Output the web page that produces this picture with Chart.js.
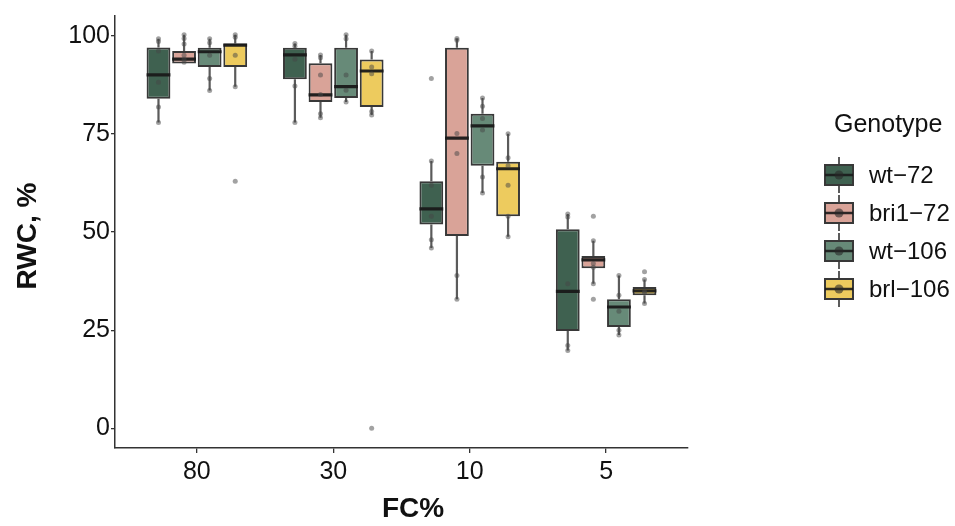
<!DOCTYPE html>
<html>
<head>
<meta charset="utf-8">
<script src="https://cdn.jsdelivr.net/npm/chart.js@4.4.1/dist/chart.umd.min.js"></script>
<style>
  html, body { margin: 0; padding: 0; background: #ffffff; }
  #wrap { width: 955px; height: 526px; position: relative; }
</style>
</head>
<body>
<div id="wrap"><canvas id="c"></canvas></div>
<script>
// Field-capacity levels (x categories) and genotypes (dodged groups)
const fcLevels = ['80', '30', '10', '5'];
const genotypes = ['wt\u221272', 'bri1\u221272', 'wt\u2212106', 'brl\u2212106'];
const boxColors = ['#3f6150', '#d9a398', '#678a78', '#edcb5e'];
const yTicks = [0, 25, 50, 75, 100];

// Box summaries per FC level: [lower whisker, Q1, median, Q3, upper whisker]
const wt72Stats   = [[77.9, 83.9, 90.0, 97.0, 99.2], [77.9, 88.9, 95.1, 96.9, 98.0], [45.9, 51.9, 55.9, 62.9, 68.1], [19.8, 24.8, 34.9, 50.7, 54.6]];
const bri172Stats = [[92.9, 92.9, 94.0, 96.1, 100.2], [79.1, 83.1, 84.9, 93.0, 95.1], [32.9, 49.0, 73.9, 96.9, 99.3], [36.8, 40.8, 42.9, 43.9, 47.8]];
const wt106Stats  = [[86.0, 92.0, 95.9, 96.9, 99.2], [83.1, 84.1, 87.0, 96.9, 100.2], [59.9, 66.9, 77.0, 80.1, 84.1], [23.8, 25.8, 30.9, 32.9, 38.9]];
const brl106Stats = [[87.0, 92.0, 97.6, 98.0, 100.2], [79.8, 81.8, 91.0, 93.9, 96.1], [48.8, 54.0, 66.1, 67.9, 75.0], [31.8, 33.9, 35.0, 36.0, 37.9]];

// Individual RWC observations per FC level
const wt72Obs   = [[99.2, 98.5, 96.1, 88.1, 81.8, 77.9], [98.0, 97.3, 94.0, 87.2, 77.9], [89.1, 68.1, 61.9, 54.0, 48.0, 45.9], [54.6, 53.8, 36.8, 21.1, 19.8]];
const bri172Obs = [[100.2, 99.3, 97.9, 95.0, 94.0, 93.2], [95.1, 94.4, 90.0, 85.0, 80.1, 79.1], [99.3, 98.8, 75.1, 70.0, 38.9, 32.9], [54.0, 47.8, 42.0, 41.0, 36.8, 32.9]];
const wt106Obs  = [[99.2, 98.2, 95.0, 89.1, 86.0], [100.2, 99.2, 90.0, 86.1, 83.1], [84.1, 82.0, 78.9, 76.0, 64.0, 59.9], [38.9, 33.9, 29.8, 25.0, 23.8]];
const brl106Obs = [[100.2, 99.6, 95.0, 87.0, 62.9], [96.1, 92.0, 90.3, 80.7, 79.8, 0], [75.0, 68.9, 66.9, 61.9, 54.0, 48.8], [39.9, 37.9, 35.0, 34.5, 31.8]];

const allStats = [wt72Stats, bri172Stats, wt106Stats, brl106Stats];
const allObs = [wt72Obs, bri172Obs, wt106Obs, brl106Obs];

// Dodge geometry (in x-axis units): 4 boxes share 0.75 of each category slot
const CAT_PCT = 0.75;
const BAR_PCT = 0.93;
const slot = CAT_PCT / genotypes.length;
const dodge = g => (g - (genotypes.length - 1) / 2) * slot;
const halfBox = slot * BAR_PCT / 2;

const FONT = "'Liberation Sans', Arial, Helvetica, sans-serif";
const EDGE = '#383838';

const datasets = [];

// Whiskers
allStats.forEach((stats, g) => {
  const pts = [];
  stats.forEach((s, i) => {
    const x = i + 1 + dodge(g);
    pts.push({x, y: s[4]}, {x, y: s[3]}, {x, y: null}, {x, y: s[1]}, {x, y: s[0]}, {x, y: null});
  });
  datasets.push({
    type: 'line', label: genotypes[g] + ' whiskers', data: pts,
    borderColor: 'rgba(50,50,50,0.8)', borderWidth: 2.2, pointRadius: 0,
    spanGaps: false, fill: false, order: 3
  });
});

// Boxes (Q1 to Q3) as floating bars
allStats.forEach((stats, g) => {
  datasets.push({
    type: 'bar', label: genotypes[g],
    data: stats.map((s, i) => ({x: i + 1, y: [s[1], s[3]]})),
    backgroundColor: boxColors[g], borderColor: EDGE, borderWidth: 2,
    borderSkipped: false, categoryPercentage: CAT_PCT, barPercentage: BAR_PCT,
    order: 2
  });
});

// Medians
allStats.forEach((stats, g) => {
  const pts = [];
  stats.forEach((s, i) => {
    const x = i + 1 + dodge(g);
    pts.push({x: x - halfBox, y: s[2]}, {x: x + halfBox, y: s[2]}, {x, y: null});
  });
  datasets.push({
    type: 'line', label: genotypes[g] + ' median', data: pts,
    borderColor: 'rgba(25,25,25,0.95)', borderWidth: 3.2, pointRadius: 0,
    spanGaps: false, fill: false, order: 1
  });
});

// Observations
allObs.forEach((obs, g) => {
  const pts = [];
  obs.forEach((vals, i) => vals.forEach(v => pts.push({x: i + 1 + dodge(g), y: v})));
  datasets.push({
    type: 'scatter', label: genotypes[g] + ' points', data: pts,
    backgroundColor: 'rgba(70,70,70,0.5)', borderWidth: 0, pointRadius: 2.5,
    order: 0
  });
});

// Axis titles and the box-style legend
const decorations = {
  id: 'decorations',
  afterDraw(chart) {
    const ctx = chart.ctx;
    ctx.save();
    ctx.fillStyle = '#111111';
    ctx.textAlign = 'center';
    ctx.textBaseline = 'middle';
    ctx.font = `bold 28px ${FONT}`;
    ctx.fillText('FC%', 413, 509);
    ctx.save();
    ctx.translate(28, 236);
    ctx.rotate(-Math.PI / 2);
    ctx.fillText('RWC, %', 0, 0);
    ctx.restore();

    // legend
    ctx.textAlign = 'left';
    ctx.font = `25px ${FONT}`;
    ctx.fillText('Genotype', 834, 125);
    ctx.font = `24px ${FONT}`;
    genotypes.forEach((name, g) => {
      const cy = 175 + g * 38;
      const cx = 839;
      ctx.strokeStyle = 'rgba(50,50,50,0.8)';
      ctx.lineWidth = 2;
      ctx.beginPath();
      ctx.moveTo(cx, cy - 18); ctx.lineTo(cx, cy + 18);
      ctx.stroke();
      ctx.fillStyle = boxColors[g];
      ctx.fillRect(cx - 14, cy - 10, 28, 20);
      ctx.strokeStyle = EDGE;
      ctx.strokeRect(cx - 14, cy - 10, 28, 20);
      ctx.strokeStyle = 'rgba(25,25,25,0.9)';
      ctx.lineWidth = 2.5;
      ctx.beginPath();
      ctx.moveTo(cx - 14, cy); ctx.lineTo(cx + 14, cy);
      ctx.stroke();
      ctx.fillStyle = 'rgba(40,40,40,0.6)';
      ctx.beginPath();
      ctx.arc(cx, cy, 4.5, 0, Math.PI * 2);
      ctx.fill();
      ctx.fillStyle = '#111111';
      ctx.fillText(name, 869, cy + 1);
    });
    ctx.restore();
  }
};

new Chart(document.getElementById('c'), {
  type: 'bar',
  data: { datasets },
  options: {
    responsive: true,
    maintainAspectRatio: false,
    animation: false,
    events: [],
    layout: { padding: { left: 0, right: 267, top: 6, bottom: 0 } },
    plugins: { legend: { display: false }, tooltip: { enabled: false } },
    scales: {
      x: {
        type: 'linear', min: 0.4, max: 4.6, offset: false,
        afterBuildTicks: s => { s.ticks = fcLevels.map((_, i) => ({value: i + 1})); },
        afterFit: s => { s.height = 78; },
        ticks: {
          callback: v => fcLevels[Math.round(v) - 1],
          font: { family: FONT, size: 25 }, color: '#111111',
          padding: 4, maxRotation: 0, autoSkip: false
        },
        grid: { drawOnChartArea: false, offset: false, tickLength: 5, color: '#333333', lineWidth: 1.3 },
        border: { color: '#333333', width: 1.5 }
      },
      y: {
        type: 'linear', min: -5, max: 105,
        afterBuildTicks: s => { s.ticks = yTicks.map(v => ({value: v})); },
        afterFit: s => { s.width = 115; },
        ticks: { font: { family: FONT, size: 25 }, color: '#111111', padding: 1 },
        grid: { drawOnChartArea: false, tickLength: 4, color: '#333333', lineWidth: 1.3 },
        border: { color: '#333333', width: 1.5 }
      }
    }
  },
  plugins: [decorations]
});
</script>
</body>
</html>
